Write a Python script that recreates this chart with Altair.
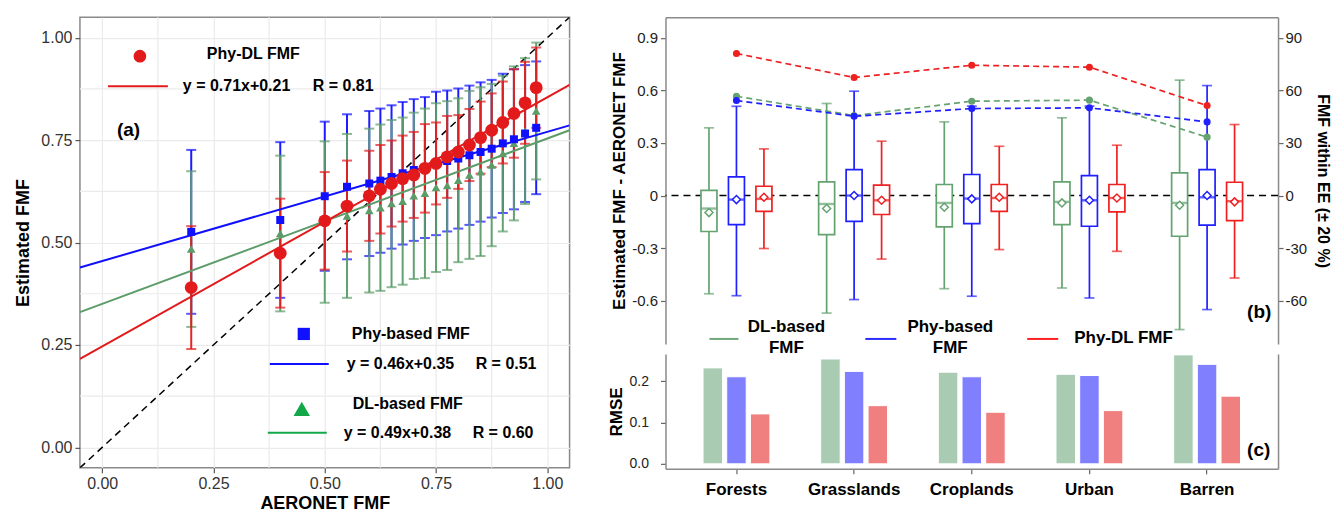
import altair as alt
import pandas as pd

FONT = "Liberation Sans"

# ---------------- Panel (a) data ----------------
aeronet_fmf = [0.2, 0.4, 0.5, 0.55, 0.6, 0.625, 0.65, 0.675, 0.7, 0.725, 0.75,
               0.775, 0.8, 0.825, 0.85, 0.875, 0.9, 0.925, 0.95, 0.975]
phydl_mean = [0.390, 0.474, 0.553, 0.589, 0.614, 0.630, 0.644, 0.656, 0.665, 0.681,
              0.693, 0.709, 0.721, 0.738, 0.756, 0.774, 0.793, 0.815, 0.841, 0.878]
phydl_sd = [0.150, 0.133, 0.119, 0.111, 0.110, 0.108, 0.105, 0.105, 0.105, 0.108,
            0.100, 0.100, 0.090, 0.088, 0.088, 0.090, 0.100, 0.108, 0.100, 0.098]
phy_mean = [0.526, 0.555, 0.613, 0.636, 0.644, 0.651, 0.660, 0.669, 0.677, 0.683,
            0.693, 0.699, 0.705, 0.713, 0.721, 0.729, 0.742, 0.752, 0.766, 0.780]
phy_sd = [0.200, 0.190, 0.182, 0.177, 0.177, 0.176, 0.175, 0.174, 0.173, 0.172,
          0.175, 0.172, 0.171, 0.170, 0.170, 0.168, 0.170, 0.171, 0.167, 0.162]
dl_mean = [0.484, 0.522, 0.550, 0.565, 0.578, 0.585, 0.595, 0.601, 0.614, 0.620,
           0.634, 0.639, 0.652, 0.665, 0.673, 0.689, 0.717, 0.742, 0.772, 0.821]
dl_sd = [0.190, 0.190, 0.197, 0.200, 0.200, 0.203, 0.204, 0.204, 0.203, 0.207,
         0.206, 0.206, 0.200, 0.205, 0.206, 0.198, 0.190, 0.188, 0.178, 0.167]

fit_x = [-0.05, 1.05]
phydl_fit_y = [0.216, 0.885]
phy_fit_y = [0.439, 0.786]
dl_fit_y = [0.330, 0.774]
identity_y = [-0.05, 1.05]

major_ticks = [0.0, 0.25, 0.5, 0.75, 1.0]
minor_ticks = [0.125, 0.375, 0.625, 0.875]

# ---------------- Panel (b)/(c) data ----------------
cats = ["Forests", "Grasslands", "Croplands", "Urban", "Barren"]
methods = ["DL-based FMF", "Phy-based FMF", "Phy-DL FMF"]

dl_lo = [-0.560, -0.670, -0.531, -0.527, -0.764]
dl_q1 = [-0.205, -0.223, -0.179, -0.166, -0.232]
dl_med = [-0.074, -0.048, -0.042, -0.036, -0.042]
dl_q3 = [0.030, 0.078, 0.063, 0.078, 0.129]
dl_hi = [0.386, 0.525, 0.420, 0.443, 0.658]
dl_avg = [-0.097, -0.074, -0.067, -0.042, -0.055]

phy_lo = [-0.571, -0.593, -0.574, -0.584, -0.650]
phy_q1 = [-0.166, -0.147, -0.160, -0.175, -0.169]
phy_med = [-0.023, 0.000, -0.017, -0.027, -0.010]
phy_q3 = [0.106, 0.148, 0.120, 0.114, 0.148]
phy_hi = [0.509, 0.595, 0.510, 0.510, 0.627]
phy_avg = [-0.023, 0.000, -0.019, -0.027, 0.000]

phydl_lo = [-0.302, -0.362, -0.308, -0.318, -0.470]
phydl_q1 = [-0.090, -0.108, -0.090, -0.093, -0.143]
phydl_med = [-0.019, -0.027, -0.014, -0.014, -0.032]
phydl_q3 = [0.053, 0.059, 0.063, 0.063, 0.076]
phydl_hi = [0.266, 0.310, 0.281, 0.287, 0.405]
phydl_avg = [-0.010, -0.027, -0.010, -0.014, -0.036]

dl_ee = [56.6, 45.6, 53.8, 54.4, 33.3]
phy_ee = [54.2, 45.2, 49.6, 50.0, 42.0]
phydl_ee = [81.0, 67.3, 74.3, 73.2, 51.3]

dl_rmse = [0.2325, 0.254, 0.222, 0.217, 0.264]
phy_rmse = [0.211, 0.224, 0.211, 0.214, 0.241]
phydl_rmse = [0.121, 0.141, 0.125, 0.129, 0.164]

# ---------------- styles ----------------
RED_A, BLUE_A, GREEN_A = "#e31a1c", "#1010ff", "#5c9c69"
GREEN_LEG = "#12a84a"
G_B, B_B, R_B = "#64a370", "#1f1fff", "#ee2020"
G_C, B_C, R_C = "#a8cbb1", "#8080ff", "#f08080"
GRID = "#ebebeb"
FRAME = "#8a8a8a"

one = pd.DataFrame({"k": [0]})


def txt(s, x, y, size=16, align="left", weight="bold", color="black"):
    return alt.Chart(one).mark_text(
        text=s, align=align, baseline="middle", fontSize=size,
        fontWeight=weight, color=color, font=FONT
    ).encode(x=alt.value(x), y=alt.value(y))


def seg(x0, x1, y, color, width=2.0):
    return alt.Chart(one).mark_rule(color=color, strokeWidth=width).encode(
        x=alt.value(x0), x2=alt.value(x1), y=alt.value(y))


def sym(shape, x, y, color, size):
    return alt.Chart(one).mark_point(
        shape=shape, filled=True, color=color, size=size, opacity=1
    ).encode(x=alt.value(x), y=alt.value(y))


# ---------------- Panel (a) ----------------
sa = alt.Scale(domain=[-0.05, 1.05], nice=False, zero=False)
ax_x = alt.Axis(values=major_ticks, format=".2f", title="AERONET FMF", grid=True,
                gridColor=GRID, gridWidth=1.2, domain=False, tickColor="#555",
                tickSize=5, tickWidth=1.2, labelFontSize=16, labelColor="#333",
                labelPadding=3, titleFontSize=18, titleFontWeight="bold",
                titleColor="black", titlePadding=3)
ax_y = alt.Axis(values=major_ticks, format=".2f", title="Estimated FMF", grid=True,
                gridColor=GRID, gridWidth=1.2, domain=False, tickColor="#555",
                tickSize=5, tickWidth=1.2, labelFontSize=16, labelColor="#333",
                labelPadding=3, titleFontSize=18, titleFontWeight="bold",
                titleColor="black", titlePadding=8)


def XA(f):
    return alt.X(f, type="quantitative", scale=sa, axis=ax_x)


def YA(f):
    return alt.Y(f, type="quantitative", scale=sa, axis=ax_y)


rows = []
for name, mean, sd in [("DL", dl_mean, dl_sd), ("Phy", phy_mean, phy_sd),
                       ("PhyDL", phydl_mean, phydl_sd)]:
    for xv, m, s in zip(aeronet_fmf, mean, sd):
        rows.append({"method": name, "x": xv, "mean": m, "lo": m - s, "hi": m + s})
df_a = pd.DataFrame(rows)

fit_rows = []
for name, ys in [("DL", dl_fit_y), ("Phy", phy_fit_y), ("PhyDL", phydl_fit_y)]:
    for xv, yv in zip(fit_x, ys):
        fit_rows.append({"method": name, "x": xv, "y": yv})
df_fit = pd.DataFrame(fit_rows)

minor_df = pd.DataFrame({"v": minor_ticks})
grid_v = alt.Chart(minor_df).mark_rule(color=GRID, strokeWidth=1.2).encode(x=XA("v"))
grid_h = alt.Chart(minor_df).mark_rule(color=GRID, strokeWidth=1.2).encode(y=YA("v"))

ident = alt.Chart(pd.DataFrame({"x": fit_x, "y": identity_y})).mark_line(
    color="black", strokeDash=[7, 5], strokeWidth=1.5, clip=True
).encode(x=XA("x"), y=YA("y"))


def errbars(name, color):
    base = alt.Chart(df_a).transform_filter(alt.datum.method == name)
    r = base.mark_rule(color=color, strokeWidth=2, opacity=0.95).encode(
        x=XA("x"), y=YA("lo"), y2="hi:Q")
    t1 = base.mark_tick(color=color, size=10, thickness=2, orient="horizontal").encode(
        x=XA("x"), y=YA("lo"))
    t2 = base.mark_tick(color=color, size=10, thickness=2, orient="horizontal").encode(
        x=XA("x"), y=YA("hi"))
    return [r, t1, t2]


def fitline(name, color):
    return alt.Chart(df_fit).transform_filter(alt.datum.method == name).mark_line(
        color=color, strokeWidth=2, clip=True).encode(x=XA("x"), y=YA("y"))


def pts(name, color, shape, size):
    return alt.Chart(df_a).transform_filter(alt.datum.method == name).mark_point(
        shape=shape, filled=True, color=color, size=size, opacity=1).encode(
        x=XA("x"), y=YA("mean"))


layers_a = [grid_v, grid_h, ident]
layers_a += errbars("Phy", BLUE_A) + errbars("DL", GREEN_A) + errbars("PhyDL", RED_A)
layers_a += [fitline("DL", GREEN_A), fitline("Phy", BLUE_A), fitline("PhyDL", RED_A)]
layers_a += [pts("DL", GREEN_A, "triangle-up", 75), pts("Phy", BLUE_A, "square", 64),
             pts("PhyDL", RED_A, "circle", 165)]
# in-panel legend
layers_a += [
    sym("circle", 60, 39, RED_A, 160),
    txt("Phy-DL FMF", 127, 37),
    seg(28, 88, 69, RED_A),
    txt("y = 0.71x+0.21", 103, 69),
    txt("R = 0.81", 233, 69),
    txt("(a)", 37, 113, size=19),
    sym("square", 224, 317, BLUE_A, 150),
    txt("Phy-based FMF", 272, 317),
    seg(190, 249, 347, BLUE_A),
    txt("y = 0.46x+0.35", 267, 347),
    txt("R = 0.51", 396, 347),
    sym("triangle-up", 222, 392, GREEN_LEG, 270),
    txt("DL-based FMF", 273, 387),
    seg(188, 247, 416, GREEN_LEG),
    txt("y = 0.49x+0.38", 264, 416),
    txt("R = 0.60", 393, 416),
]

panel_a = alt.layer(*layers_a).properties(
    width=490, height=451,
    view=alt.ViewBackground(stroke=FRAME, strokeWidth=1.5))

# ---------------- Panel (b) ----------------
box_rows = []
for m, lo, q1, md, q3, hi, av in [
    (methods[0], dl_lo, dl_q1, dl_med, dl_q3, dl_hi, dl_avg),
    (methods[1], phy_lo, phy_q1, phy_med, phy_q3, phy_hi, phy_avg),
    (methods[2], phydl_lo, phydl_q1, phydl_med, phydl_q3, phydl_hi, phydl_avg),
]:
    for i, c in enumerate(cats):
        box_rows.append({"category": c, "method": m, "lo": lo[i], "q1": q1[i],
                         "med": md[i], "q3": q3[i], "hi": hi[i], "avg": av[i]})
df_box = pd.DataFrame(box_rows)

ee_rows = []
for m, vals in [(methods[0], dl_ee), (methods[1], phy_ee), (methods[2], phydl_ee)]:
    for c, v in zip(cats, vals):
        ee_rows.append({"category": c, "method": m, "pct": v})
df_ee = pd.DataFrame(ee_rows)

xband = alt.Scale(domain=cats, paddingInner=0, paddingOuter=0.103)
xb = alt.X("category:N", scale=xband, sort=cats,
           axis=alt.Axis(orient="top", labels=False, ticks=False, title=None,
                         domain=True, domainColor=FRAME, domainWidth=1.5, grid=False))
xo_b = alt.XOffset("method:N", sort=methods,
                   scale=alt.Scale(domain=methods, paddingInner=0.418, paddingOuter=0.85))
col_b = alt.Scale(domain=methods, range=[G_B, B_B, R_B])
sb = alt.Scale(domain=[-0.846, 1.017], nice=False, zero=False)
ax_b = alt.Axis(values=[-0.6, -0.3, 0, 0.3, 0.6, 0.9],
                labelExpr="datum.value == 0 ? '0' : (datum.value < 0 ? '-' + format(-datum.value, '.1f') : format(datum.value, '.1f'))",
                title="Estimated FMF - AERONET FMF", grid=False, domain=True,
                domainColor=FRAME, domainWidth=1.5, tickColor="#666", tickSize=5,
                tickWidth=1.2, labelFontSize=15, labelColor="#222", labelPadding=3,
                titleFontSize=17, titleFontWeight="bold", titleColor="black",
                titlePadding=3)


def YB(f):
    return alt.Y(f, type="quantitative", scale=sb, axis=ax_b)


bb = alt.Chart(df_box)
zero_line = alt.Chart(one).mark_rule(color="black", strokeDash=[7, 5], strokeWidth=1.4).encode(
    y=alt.datum(0, type="quantitative", scale=sb, axis=ax_b))
whisk = bb.mark_rule(strokeWidth=1.7).encode(
    x=xb, xOffset=xo_b, y=YB("lo"), y2="hi:Q",
    color=alt.Color("method:N", scale=col_b, legend=None))
box = bb.mark_bar(fill="white", strokeWidth=1.7).encode(
    x=xb, xOffset=xo_b, y=YB("q1"), y2="q3:Q",
    stroke=alt.Stroke("method:N", scale=col_b, legend=None))
med = bb.mark_tick(size=16, thickness=2.4, orient="horizontal").encode(
    x=xb, xOffset=xo_b, y=YB("med"),
    color=alt.Color("method:N", scale=col_b, legend=None))
cap_lo = bb.mark_tick(size=10, thickness=1.7, orient="horizontal").encode(
    x=xb, xOffset=xo_b, y=YB("lo"),
    color=alt.Color("method:N", scale=col_b, legend=None))
cap_hi = bb.mark_tick(size=10, thickness=1.7, orient="horizontal").encode(
    x=xb, xOffset=xo_b, y=YB("hi"),
    color=alt.Color("method:N", scale=col_b, legend=None))
mean_pt = bb.mark_point(shape="diamond", filled=True, fill="white", size=64,
                        strokeWidth=1.5, opacity=1).encode(
    x=xb, xOffset=xo_b, y=YB("avg"),
    stroke=alt.Stroke("method:N", scale=col_b, legend=None))

legend_b = [
    seg(44, 73, 322, "#6fa77a", 2),
    txt("DL-based", 121, 310, size=17, align="center"),
    txt("FMF", 121, 331, size=17, align="center"),
    seg(200, 231, 322, "#2b2bff", 2),
    txt("Phy-based", 285, 310, size=17, align="center"),
    txt("FMF", 285, 331, size=17, align="center"),
    seg(362, 393, 322, "#ff2020", 2),
    txt("Phy-DL FMF", 409, 321, size=17),
    txt("(b)", 582, 295, size=19),
]

L1 = alt.layer(zero_line, whisk, box, med, cap_lo, cap_hi, mean_pt, *legend_b)

see = alt.Scale(domain=[-84.6, 101.7], nice=False, zero=False)
ax_r = alt.Axis(orient="right", values=[-60, -30, 0, 30, 60, 90],
                labelExpr="datum.value < 0 ? '-' + abs(datum.value) : '' + datum.value",
                title="FMF within EE (± 20 %)", grid=False, domain=True,
                domainColor=FRAME, domainWidth=1.5, tickColor="#666", tickSize=5,
                tickWidth=1.2, labelFontSize=15, labelColor="#222", labelPadding=2,
                titleFontSize=16, titleFontWeight="bold", titleColor="black",
                titlePadding=8)
eb = alt.Chart(df_ee)
ee_line = eb.mark_line(strokeDash=[6, 4], strokeWidth=1.7).encode(
    x=xb, y=alt.Y("pct:Q", scale=see, axis=ax_r),
    color=alt.Color("method:N", scale=col_b, legend=None),
    detail="method:N")
ee_pt = eb.mark_circle(size=50, opacity=1).encode(
    x=xb, y=alt.Y("pct:Q", scale=see, axis=ax_r),
    color=alt.Color("method:N", scale=col_b, legend=None))
L2 = alt.layer(ee_line, ee_pt)

panel_b = alt.layer(L1, L2).resolve_scale(y="independent").properties(
    width=613, height=327)

# ---------------- Panel (c) ----------------
rm_rows = []
for m, vals in [(methods[0], dl_rmse), (methods[1], phy_rmse), (methods[2], phydl_rmse)]:
    for c, v in zip(cats, vals):
        rm_rows.append({"category": c, "method": m, "rmse": v})
df_rm = pd.DataFrame(rm_rows)

xband_c = alt.Scale(domain=cats, paddingInner=0.0293, paddingOuter=0.1177)
xc = alt.X("category:N", scale=xband_c, sort=cats,
           axis=alt.Axis(title=None, labelAngle=0, labelFontSize=17,
                         labelFontWeight="bold", labelColor="black", labelPadding=8,
                         tickSize=5, tickColor="#666", tickWidth=1.2,
                         domainColor=FRAME, domainWidth=1.5, grid=False))
xo_c = alt.XOffset("method:N", sort=methods,
                   scale=alt.Scale(domain=methods, paddingInner=0.177, paddingOuter=1.0))
sc = alt.Scale(domain=[-0.0121, 0.2663], nice=False, zero=False)
ax_c = alt.Axis(values=[0, 0.1, 0.2], format=".1f", title="RMSE", grid=False,
                domainColor=FRAME, domainWidth=1.5, tickColor="#666", tickSize=5,
                tickWidth=1.2, labelFontSize=14, labelColor="#222", labelPadding=12,
                titleFontSize=17, titleFontWeight="bold", titleColor="black",
                titlePadding=4)
ax_c_r = alt.Axis(orient="right", labels=False, ticks=False, title=None, grid=False,
                  domainColor=FRAME, domainWidth=1.5)
col_c = alt.Scale(domain=methods, range=[G_C, B_C, R_C])

bars = alt.Chart(df_rm).mark_bar(stroke="white", strokeWidth=1).encode(
    x=xc, xOffset=xo_c,
    y=alt.Y("rmse:Q", scale=sc, axis=ax_c), y2=alt.datum(0),
    fill=alt.Fill("method:N", scale=col_c, legend=None))
bars_r = alt.Chart(df_rm).mark_bar(opacity=0).encode(
    x=xc, xOffset=xo_c,
    y=alt.Y("rmse:Q", scale=sc, axis=ax_c_r), y2=alt.datum(0))

panel_c = alt.layer(bars, bars_r, txt("(c)", 582, 96, size=19)).resolve_axis(
    y="independent").properties(width=613, height=115)

right = alt.vconcat(panel_b, panel_c, spacing=10, bounds="flush").resolve_scale(
    color="independent", fill="independent", stroke="independent",
    x="independent", xOffset="independent")
chart = alt.hconcat(panel_a, right, spacing=96, bounds="flush").properties(
    padding={"left": 6, "top": 7, "right": 0, "bottom": 0}
).configure(font=FONT, background="white").configure_view(stroke="transparent")

chart.save("out.html", embed_options={"renderer": "svg", "actions": False})
